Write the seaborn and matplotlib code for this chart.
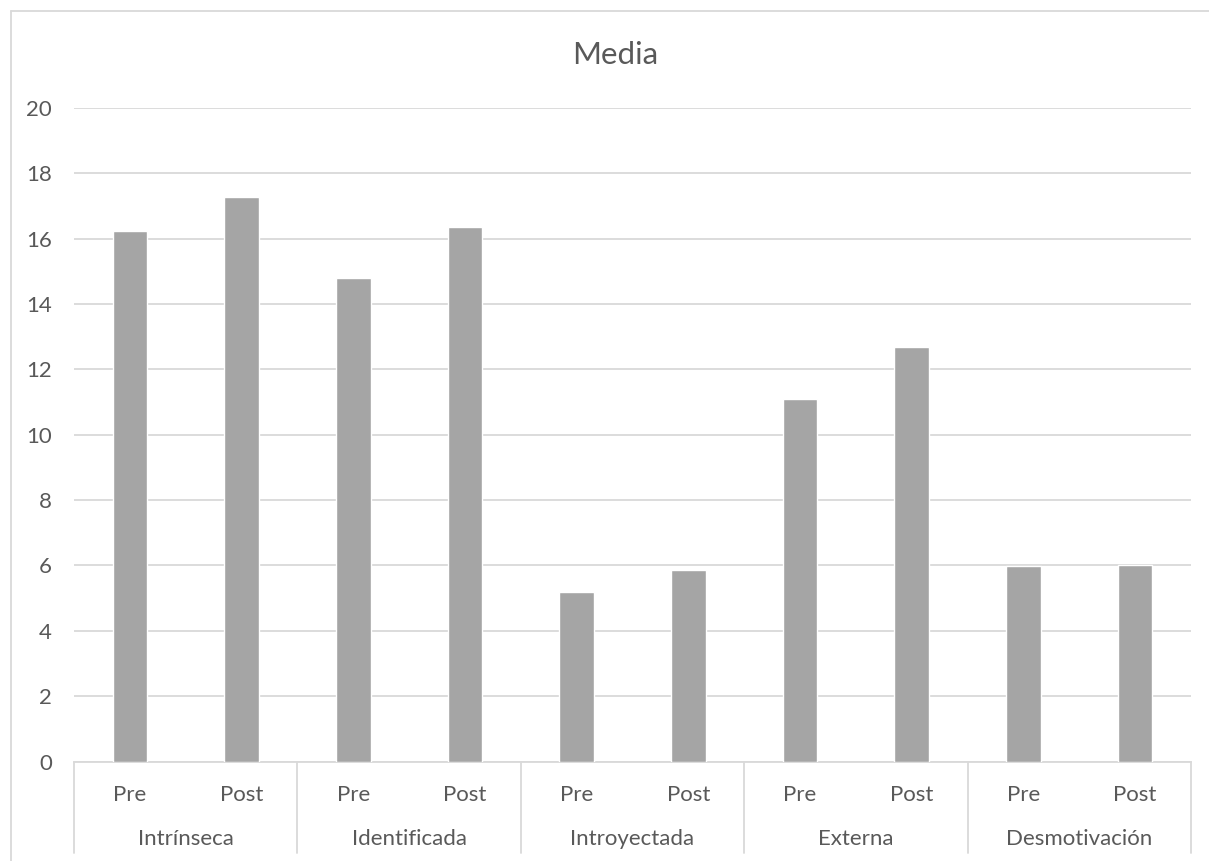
import matplotlib
matplotlib.use("Agg")
import matplotlib.pyplot as plt
import matplotlib.transforms as mtransforms
from matplotlib.lines import Line2D
import seaborn as sns
import pandas as pd

groups = ["Intrínseca", "Identificada", "Introyectada", "Externa", "Desmotivación"]
conditions = ["Pre", "Post"]
pre_values = [16.24, 14.79, 5.19, 11.09, 5.97]
post_values = [17.27, 16.37, 5.87, 12.68, 6.01]
yticks = [0, 2, 4, 6, 8, 10, 12, 14, 16, 18, 20]
title = "Media"

rows = []
for g, pv, qv in zip(groups, pre_values, post_values):
    rows.append({"key": g + " | Pre", "group": g, "cond": "Pre", "value": pv})
    rows.append({"key": g + " | Post", "group": g, "cond": "Post", "value": qv})
df = pd.DataFrame(rows)

sns.set_theme(style="white")
plt.rcParams["font.family"] = ["Lato", "DejaVu Sans"]

TXT = "#595959"
GRID = "#D9D9D9"
W, H = 1209, 861
fig = plt.figure(figsize=(W / 100, H / 100), dpi=100)
ax_l, ax_r, ax_b, ax_t = 74, 1191, 761.5, 108
ax = fig.add_axes([ax_l / W, 1 - ax_b / H, (ax_r - ax_l) / W, (ax_b - ax_t) / H])

sns.barplot(data=df, x="key", y="value", color="#A5A5A5", width=0.31,
            saturation=1, ax=ax, errorbar=None, zorder=3)

ax.set_ylim(0, 20)
ax.set_xlim(-0.5, len(df) - 0.5)
ax.set_yticks(yticks)
ax.set_yticklabels([str(t) for t in yticks], color=TXT, fontsize=16)
ax.yaxis.grid(True, color=GRID, linewidth=1.3, zorder=0)
ax.set_axisbelow(True)
for s in ["top", "right", "left"]:
    ax.spines[s].set_visible(False)
ax.spines["bottom"].set_color(GRID)
ax.spines["bottom"].set_linewidth(1.3)
ax.tick_params(axis="both", length=0)
ax.tick_params(axis="y", pad=16)
ax.set_xticks(range(len(df)))
ax.set_xticklabels(df["cond"].tolist(), color=TXT, fontsize=16)
ax.tick_params(axis="x", pad=17)
ax.set_xlabel("")
ax.set_ylabel("")

axh = ax_b - ax_t
trans = mtransforms.blended_transform_factory(ax.transData, ax.transAxes)
sep_bottom = -(853 - ax_b) / axh
for i in range(len(groups) + 1):
    x = i * 2 - 0.5
    ax.add_line(Line2D([x, x], [0, sep_bottom], transform=trans, color=GRID,
                       linewidth=1.3, clip_on=False))
for i, g in enumerate(groups):
    ax.text(i * 2 + 0.5, -(839 - ax_b) / axh, g, transform=trans, ha="center",
            va="center", color=TXT, fontsize=16)

fig.text(615 / W, 1 - 55 / H, title, ha="center", va="center", color=TXT, fontsize=22.5)

fig.add_artist(Line2D([10.5 / W, 10.5 / W], [0, 1 - 10.5 / H], transform=fig.transFigure,
                      color=GRID, linewidth=1.3))
fig.add_artist(Line2D([10.5 / W, 1], [1 - 10.5 / H, 1 - 10.5 / H], transform=fig.transFigure,
                      color=GRID, linewidth=1.3))

fig.savefig("out.png", dpi=100)
